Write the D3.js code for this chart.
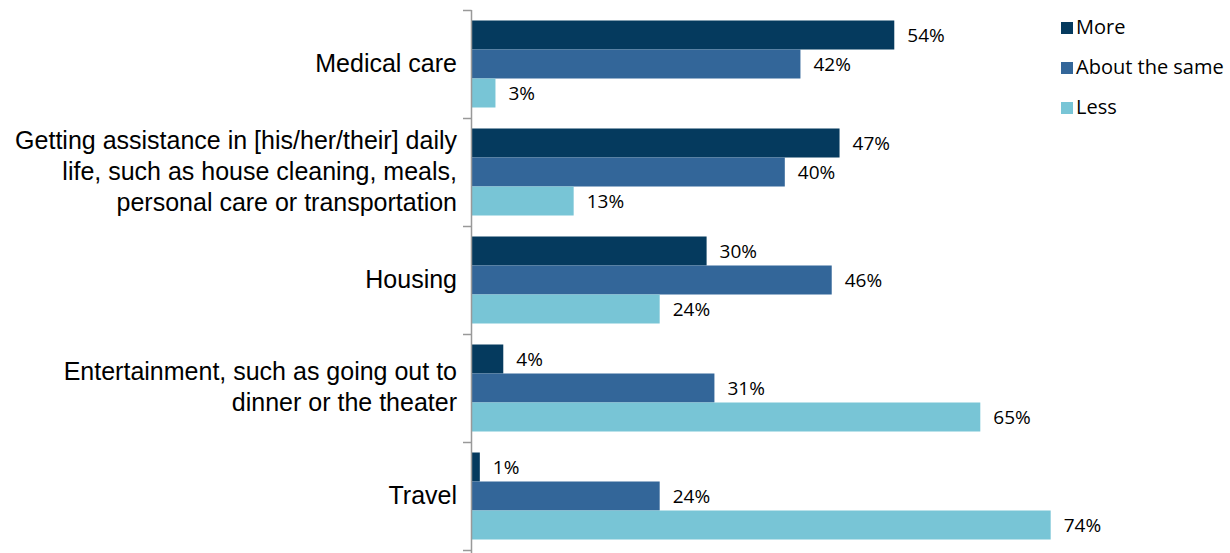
<!DOCTYPE html>
<html>
<head>
<meta charset="utf-8">
<script src="https://cdn.jsdelivr.net/npm/d3@7"></script>
<style>
  body { margin: 0; background: #fff; }
  text { fill: #000; }
</style>
</head>
<body>
<div id="viz-container"></div>
<script>
// data
let categories = [
  ["Medical care"],
  ["Getting assistance in [his/her/their] daily", "life, such as house cleaning, meals,", "personal care or transportation"],
  ["Housing"],
  ["Entertainment, such as going out to", "dinner or the theater"],
  ["Travel"]
];
let seriesNames = ["More", "About the same", "Less"];
let more = [54, 47, 30, 4, 1];
let aboutSame = [42, 40, 46, 31, 24];
let less = [3, 13, 24, 65, 74];
let colors = ["#053a5e", "#336699", "#78c5d6"];

let W = 1230, H = 553;

let viz = d3.select("#viz-container")
    .append("svg")
    .attr("width", W)
    .attr("height", H)
;

let x = d3.scaleLinear().domain([0, 100]).range([472, 1254]);
let y = d3.scaleBand().domain(d3.range(categories.length)).range([10, 550]).paddingInner(0).paddingOuter(0);
let inner = d3.scaleBand().domain(d3.range(3)).range([0, y.bandwidth()]).paddingOuter(0.362);

let allSeries = [more, aboutSame, less];

// bars
let groups = viz.selectAll(".group").data(categories).enter()
  .append("g")
    .attr("class", "group")
    .attr("transform", (d, i) => "translate(0," + y(i) + ")")
;

groups.each(function(d, i) {
  let g = d3.select(this);
  allSeries.forEach((s, k) => {
    g.append("rect")
      .attr("x", x(0))
      .attr("y", inner(k))
      .attr("width", x(s[i]) - x(0))
      .attr("height", inner.bandwidth())
      .attr("fill", colors[k]);
    g.append("text")
      .attr("x", x(s[i]) + 13)
      .attr("y", inner(k) + inner.bandwidth() / 2 + 2)
      .attr("dominant-baseline", "middle")
      .attr("font-family", "'Open Sans', sans-serif")
      .attr("font-size", 19)
      .text(s[i] + "%");
  });
});

// axis line with ticks between groups
let ax = viz.append("g");
ax.append("line")
  .attr("x1", 471.5).attr("x2", 471.5)
  .attr("y1", 10).attr("y2", H)
  .attr("stroke", "#999").attr("stroke-width", 1.5);
d3.range(categories.length + 1).forEach(i => {
  let yy = i < categories.length ? y(i) : y(categories.length - 1) + y.bandwidth();
  ax.append("line")
    .attr("x1", 463).attr("x2", 471.5)
    .attr("y1", Math.round(yy) + 0.5).attr("y2", Math.round(yy) + 0.5)
    .attr("stroke", "#999").attr("stroke-width", 1.5);
});

// category labels
groups.each(function(d, i) {
  let g = d3.select(this);
  let lh = 31;
  let mid = y.bandwidth() / 2 + 1;
  d.forEach((line, j) => {
    g.append("text")
      .attr("x", 457)
      .attr("y", mid + (j - (d.length - 1) / 2) * lh)
      .attr("dominant-baseline", "middle")
      .attr("text-anchor", "end")
      .attr("font-family", "'Liberation Sans', Arial, sans-serif")
      .attr("font-size", 25)
      .text(line);
  });
});

// legend
let legend = viz.selectAll(".legend").data(seriesNames).enter()
  .append("g")
    .attr("class", "legend")
    .attr("transform", (d, i) => "translate(1061," + (22 + i * 40) + ")")
;
legend.append("rect")
  .attr("width", 12).attr("height", 12)
  .attr("fill", (d, i) => colors[i]);
legend.append("text")
  .attr("x", 15).attr("y", 7)
  .attr("dominant-baseline", "middle")
  .attr("font-family", "'Open Sans', sans-serif")
  .attr("font-size", 20)
  .text(d => d);
</script>
</body>
</html>
